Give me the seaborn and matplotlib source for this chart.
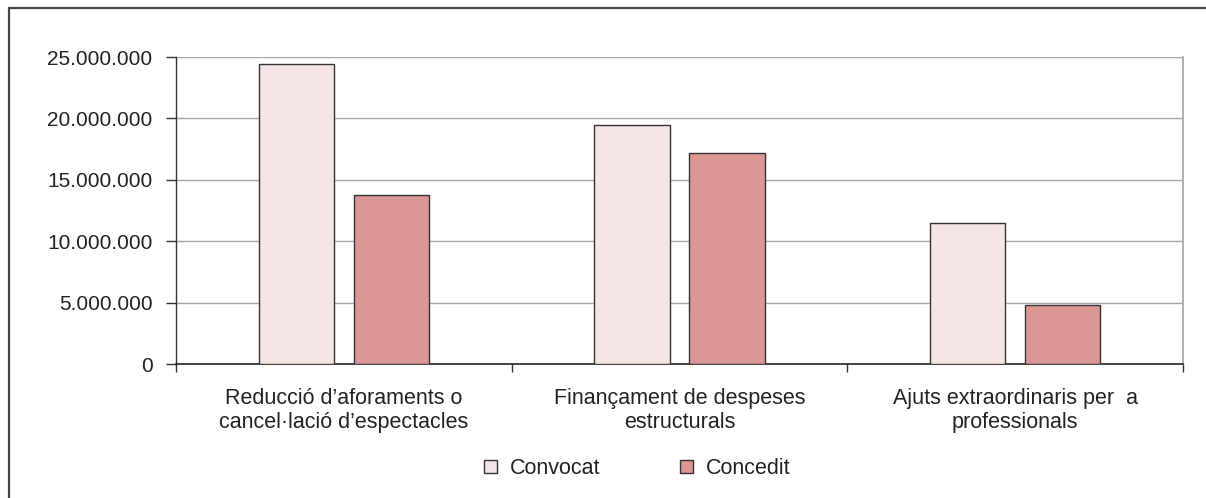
import matplotlib
matplotlib.use('Agg')
import matplotlib.pyplot as plt
from matplotlib.lines import Line2D
import seaborn as sns
import pandas as pd

# Data
categories = ["Reducció d\u2019aforaments o\ncancel\u00b7lació d\u2019espectacles",
              "Finançament de despeses\nestructurals",
              "Ajuts extraordinaris per  a\nprofessionals"]
convocat = [24460000, 19500000, 11500000]
concedit = [13750000, 17190000, 4780000]
series = ["Convocat", "Concedit"]
colors = {"Convocat": "#F5E4E4", "Concedit": "#D99694"}
yticks = [0, 5000000, 10000000, 15000000, 20000000, 25000000]

df = pd.DataFrame({
    "Categoria": categories * 2,
    "Import": convocat + concedit,
    "Serie": ["Convocat"] * 3 + ["Concedit"] * 3,
})

sns.set_theme(style="white")
plt.rcParams['font.family'] = ['Liberation Sans', 'DejaVu Sans']

W, H = 1206, 498
fig = plt.figure(figsize=(W / 100, H / 100), dpi=100)
ax = fig.add_axes([176 / W, 1 - 364 / H, (1183 - 176) / W, (364 - 57) / H])

sns.barplot(data=df, x="Categoria", y="Import", hue="Serie", hue_order=series,
            palette=colors, width=0.566, gap=0.21, dodge=True,
            edgecolor="#333333", linewidth=1, saturation=1, ax=ax, zorder=3)

# Axes styling
ax.set_xlim(-0.5, 2.5)
ax.set_ylim(0, 25000000)
ax.set_yticks(yticks)
ax.set_yticklabels([f"{v:,.0f}".replace(",", ".") for v in yticks])
ax.yaxis.grid(True, color="#A6A6A6", linewidth=1, zorder=0)
ax.set_axisbelow(True)
ax.set_xlabel("")
ax.set_ylabel("")

ax.set_xticks([-0.5, 0.5, 1.5, 2.5])
ax.set_xticklabels(["", "", "", ""])
ax.set_xticks([0, 1, 2], labels=categories, minor=True)
ax.tick_params(axis="x", which="major", length=6, width=1, color="#333333", direction="out", bottom=True)
ax.tick_params(axis="x", which="minor", length=0, pad=17, labelsize=15.5, labelcolor="#222222")
ax.tick_params(axis="y", length=7, width=1, color="#333333", direction="out", left=True,
               pad=10, labelsize=15, labelcolor="#222222")
for lab in ax.get_xticklabels(minor=True):
    lab.set_horizontalalignment("center")

for side in ["top"]:
    ax.spines[side].set_visible(False)
ax.spines["left"].set_color("#333333")
ax.spines["bottom"].set_color("#222222")
ax.spines["right"].set_color("#A6A6A6")
ax.spines["left"].set_linewidth(1)
ax.spines["bottom"].set_linewidth(1.2)

# Legend at the bottom
handles, labels = ax.get_legend_handles_labels()
if ax.get_legend() is not None:
    ax.get_legend().remove()
fig.legend(handles, labels, loc="center", bbox_to_anchor=(637 / W, 1 - 468.5 / H),
           ncol=2, frameon=False, fontsize=15.5, handlelength=0.6, handleheight=0.6,
           handletextpad=0.6, columnspacing=3.7, labelcolor="#222222")

# Outer border (left and top only visible)
fig.add_artist(Line2D([8.5 / W, 8.5 / W], [0, 1 - 8.5 / H], transform=fig.transFigure,
                      color="#444444", linewidth=1.6))
fig.add_artist(Line2D([8.5 / W, 1], [1 - 8.5 / H, 1 - 8.5 / H], transform=fig.transFigure,
                      color="#444444", linewidth=1.6))

fig.savefig("out.png", dpi=100)
plt.close(fig)
